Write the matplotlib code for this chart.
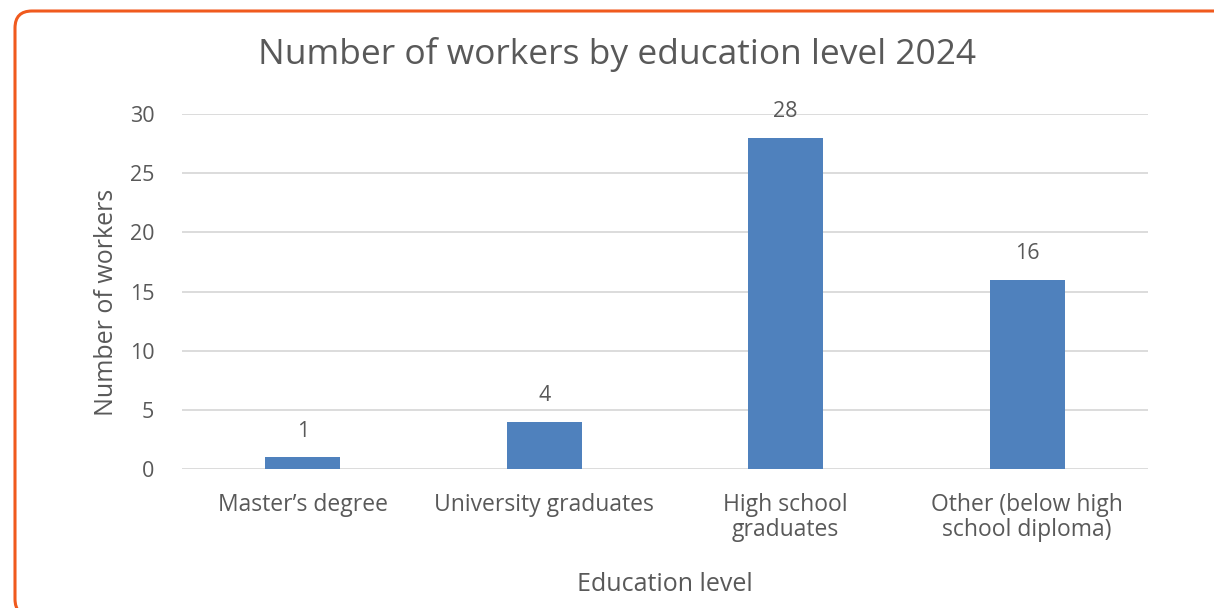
import matplotlib.pyplot as plt
from matplotlib.patches import FancyBboxPatch

categories = ["Master\u2019s degree", "University graduates", "High school\ngraduates",
              "Other (below high\nschool diploma)"]
workers = [1, 4, 28, 16]
y_ticks = [0, 5, 10, 15, 20, 25, 30]

TEXT = "#595959"
BAR = "#4F81BD"
GRID = "#D9D9D9"

plt.rcParams["font.family"] = ["Open Sans", "DejaVu Sans"]

W, H = 1214, 608
fig = plt.figure(figsize=(W / 100, H / 100), dpi=100)

# pixel-space overlay for the rounded orange frame (runs off right and bottom)
bg = fig.add_axes([0, 0, 1, 1], zorder=-1)
bg.set_xlim(0, W)
bg.set_ylim(0, H)
bg.axis("off")
bg.add_patch(FancyBboxPatch((15, H - 616), 1240, 605,
                            boxstyle="round,pad=0,rounding_size=17",
                            fill=False, edgecolor="#F05A1E", linewidth=2.2))

ax = fig.add_axes([182 / W, 1 - 469 / H, (1148 - 182) / W, (469 - 114) / H])
ax.patch.set_alpha(0)
x = range(len(categories))
bars = ax.bar(x, workers, width=0.31, color=BAR, zorder=3)
for b, v in zip(bars, workers):
    ax.annotate(str(v), (b.get_x() + b.get_width() / 2, v), xytext=(0, 11),
                textcoords="offset points", ha="center", va="bottom",
                fontsize=15.5, color=TEXT)

ax.set_xlim(-0.5, len(categories) - 0.5)
ax.set_ylim(0, 30)
ax.set_yticks(y_ticks)
ax.set_xticks(list(x))
ax.set_xticklabels(categories, linespacing=1.05)
ax.tick_params(axis="both", length=0, labelsize=15.5, colors=TEXT)
ax.tick_params(axis="x", labelsize=16.5, pad=17)
ax.tick_params(axis="y", pad=20)
ax.grid(axis="y", color=GRID, linewidth=1.3, zorder=0)
for s in ax.spines.values():
    s.set_visible(False)

ax.set_ylabel("Number of workers", fontsize=18, color=TEXT)
ax.yaxis.set_label_coords(-0.065, 0.47)
ax.set_xlabel("Education level", fontsize=18, color=TEXT, labelpad=22)
fig.text(0.508, 1 - 55 / H, "Number of workers by education level 2024",
         ha="center", va="center", fontsize=25.5, color=TEXT)

fig.savefig("out.png", dpi=100)
